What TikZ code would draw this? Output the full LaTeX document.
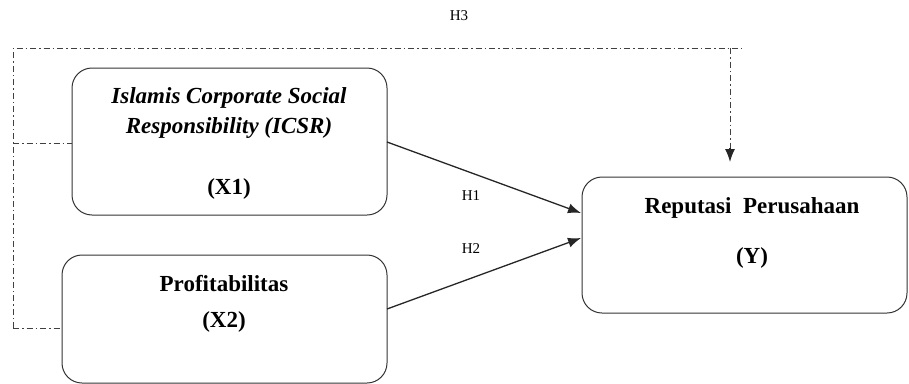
\documentclass[tikz,border=0pt]{standalone}
\usepackage{fontspec}
\setmainfont{Liberation Serif}
\usetikzlibrary{arrows.meta}
\begin{document}
\begin{tikzpicture}[x=1pt,y=-1pt,
  box/.style={draw=black!80, line width=1pt, rounded corners=20pt},
  dd/.style={draw=black!75, line width=1pt, dash pattern=on 6pt off 3pt on 1.5pt off 3pt},
  conn/.style={draw=black!85, line width=1.3pt, -{Latex[length=13pt,width=10pt]}},
  lbl/.style={font=\fontsize{15}{17}\selectfont},
  ttl/.style={font=\fontsize{23}{26}\selectfont\bfseries}]
\useasboundingbox (0,0) rectangle (909,383);
% boxes
\draw[box] (72,68) rectangle (387,215);
\draw[box] (62,255) rectangle (387,383);
\draw[box] (582,177) rectangle (907,313);
\node[inner sep=0, outer sep=0, minimum width=315pt, minimum height=147pt] (x1) at (229.5,141.5) {};
\node[inner sep=0, outer sep=0, minimum width=325pt, minimum height=128pt] (x2) at (224.5,319) {};
\node[inner sep=0, outer sep=0, minimum width=325pt, minimum height=136pt] (y) at (744.5,245) {};
% texts
\node[ttl] (t1a) at (229,98) {\itshape Islamis Corporate Social};
\node[ttl] (t1b) at (229,128) {\itshape Responsibility (ICSR)};
\node[ttl] (t1c) at (229,189) {(X1)};
\node[ttl] (t2a) at (224,284) {Profitabilitas};
\node[ttl] (t2b) at (224,322) {(X2)};
\node[ttl] (t3a) at (752,208) {Reputasi\ \ Perusahaan};
\node[ttl] (t3b) at (752,258) {(Y)};
% labels
\node[lbl] (h1) at (471,196) {H1};
\node[lbl] (h2) at (471,249) {H2};
\node[lbl] (h3) at (459,16) {H3};
% direct arrows
\coordinate (a1s) at (387,142);
\coordinate (a1e) at (581,213);
\coordinate (a2s) at (387,309);
\coordinate (a2e) at (581,238);
\draw[conn] (a1s) -- (a1e);
\draw[conn] (a2s) -- (a2e);
% dash-dot moderation path
\coordinate (tl) at (13,48);
\coordinate (tr) at (742,48);
\coordinate (bl) at (13,328);
\coordinate (m1) at (13,143);
\coordinate (vtop) at (730,48);
\coordinate (vend) at (730,150);
\coordinate (tip) at (730,162);
\draw[dd] (bl) -- (tl) -- (tr);
\draw[dd] (m1) -- (72,143);
\draw[dd] (bl) -- (62,328);
\draw[dd] (vtop) -- (vend);
\draw[conn] (730,148) -- (tip);
\end{tikzpicture}
\end{document}
